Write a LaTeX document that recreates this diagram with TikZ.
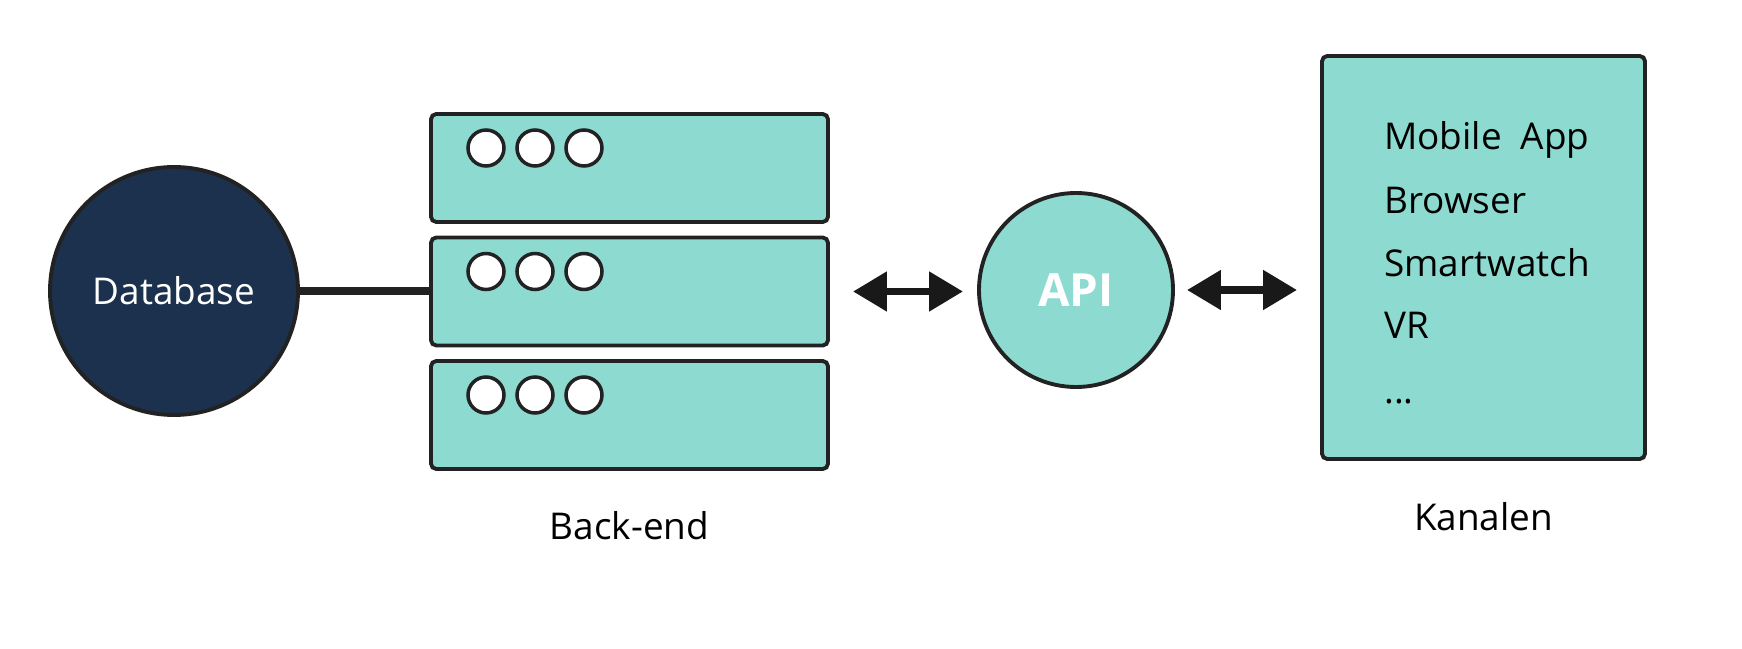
\documentclass[tikz,border=0pt]{standalone}
\usepackage{fontspec}
\setmainfont{Open Sans}
\usetikzlibrary{arrows.meta}

\definecolor{apiteal}{HTML}{8DDBD0}
\definecolor{dbnavy}{HTML}{1B314D}
\definecolor{edgegray}{HTML}{222222}

\tikzset{
  srv/.style={draw=edgegray, line width=2.2pt, fill=apiteal, rounded corners=3pt,
    minimum width=7.94cm, minimum height=2.16cm},
  led/.style={draw=edgegray, line width=2pt, fill=white, circle,
    minimum size=0.72cm, inner sep=0pt},
  link/.style={line width=4.5pt, black!90,
    {Triangle[length=0.68cm,width=0.76cm]}-{Triangle[length=0.68cm,width=0.76cm]}},
  lbl/.style={font=\fontsize{21}{25}\selectfont}
}

\begin{document}
\begin{tikzpicture}

    \useasboundingbox (0, 0) rectangle (34.84, 12.96);

    \node[draw=edgegray, line width=2.2pt, fill=dbnavy, circle, minimum size=4.96cm,
      text=white, lbl] (db) at (3.48, 7.14) {Database};

    \node[srv] (s1) at (12.59, 9.6) {};
    \node[srv] (s2) at (12.59, 7.13) {};
    \node[srv] (s3) at (12.59, 4.66) {};

    \node[led] (s1a) at (9.72, 10.0) {};
    \node[led] (s1b) at (10.70, 10.0) {};
    \node[led] (s1c) at (11.68, 10.0) {};

    \node[led] (s2a) at (9.72, 7.53) {};
    \node[led] (s2b) at (10.70, 7.53) {};
    \node[led] (s2c) at (11.68, 7.53) {};

    \node[led] (s3a) at (9.72, 5.06) {};
    \node[led] (s3b) at (10.70, 5.06) {};
    \node[led] (s3c) at (11.68, 5.06) {};

    \node[lbl, anchor=base] (backend) at (12.59, 2.16) {Back-end};

    \path[draw, line width=4pt, edgegray] (db.east) to (db.east -| s2.west);

    \node[draw=edgegray, line width=2.2pt, fill=apiteal, circle, minimum size=3.88cm,
      text=white, font=\fontsize{26}{30}\selectfont\bfseries] (api) at (21.52, 7.16) {API};

    \node[draw=edgegray, line width=2.2pt, fill=apiteal, rounded corners=3pt,
      minimum width=6.46cm, minimum height=8.06cm] (kan) at (29.67, 7.81) {};

    \node[lbl, anchor=base west] (k1) at (27.56, 9.96) {Mobile\ \ App};
    \node[lbl, anchor=base west] (k2) at (27.56, 8.68) {Browser};
    \node[lbl, anchor=base west] (k3) at (27.56, 7.42) {Smartwatch};
    \node[lbl, anchor=base west] (k4) at (27.56, 6.18) {VR};
    \node[lbl, anchor=base west] (k5) at (27.56, 4.88) {...};

    \node[lbl, anchor=base] (kanalen) at (29.67, 2.34) {Kanalen};

    \path[draw, link, shorten <=0.46cm, shorten >=0.28cm] (s2.east) to (s2.east -| api.west);
    \path[draw, link, shorten <=0.24cm, shorten >=0.46cm] (api.east) to (api.east -| kan.west);

  \end{tikzpicture}
\end{document}
